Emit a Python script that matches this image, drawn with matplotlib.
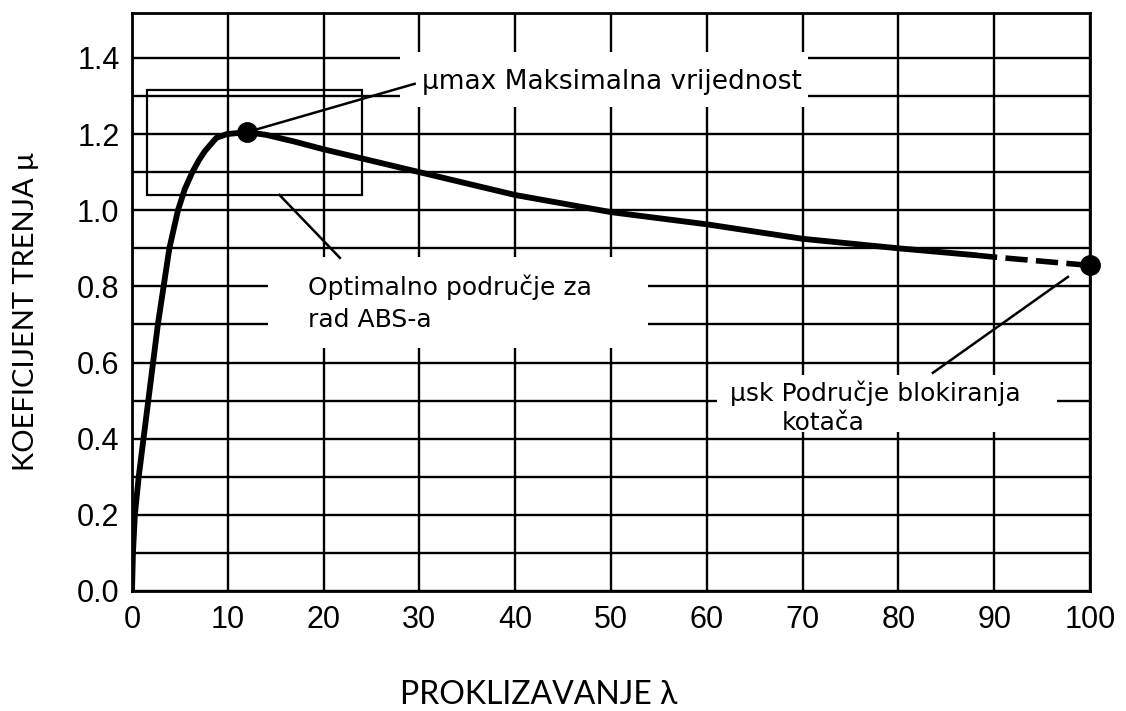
import matplotlib.pyplot as plt
import matplotlib.patches as mpatches

# DATA
slip = [0, 0.1, 0.3, 0.7, 1.2, 1.7, 2.2, 2.7, 3.3, 3.9, 4.8, 5.5, 6.3, 7.0, 7.6,
        8.8, 9.9, 12, 14, 17, 20, 25, 30, 35, 40, 50, 60, 70, 80, 88]
mu = [0, 0.1, 0.2, 0.3, 0.4, 0.5, 0.6, 0.7, 0.8, 0.9, 1.0, 1.055, 1.1, 1.132, 1.155,
      1.19, 1.2, 1.205, 1.198, 1.18, 1.16, 1.13, 1.10, 1.07, 1.04, 0.995, 0.963, 0.925, 0.90, 0.882]
slip_dash = [88, 90, 95, 100]
mu_dash = [0.882, 0.877, 0.866, 0.855]

mu_max = (12, 1.205)
mu_sk = (100, 0.855)
opt_region = (1.6, 1.04, 24, 1.317)  # x0, y0, x1, y1

x_ticks = list(range(0, 101, 10))
y_ticks = [0.0, 0.2, 0.4, 0.6, 0.8, 1.0, 1.2, 1.4]
y_minor = [0.1, 0.3, 0.5, 0.7, 0.9, 1.1, 1.3]

# FIGURE
fig = plt.figure(figsize=(11.26, 7.11), dpi=100)
ax = fig.add_axes([132 / 1126, 1 - 591 / 711, (1090 - 132) / 1126, (591 - 13) / 711])
ax.set_xlim(0, 100)
ax.set_ylim(0, 1.518)

ax.set_xticks(x_ticks)
ax.set_xticklabels([str(t) for t in x_ticks])
ax.set_yticks(y_ticks)
ax.set_yticklabels([f'{t:.1f}' for t in y_ticks])
ax.set_yticks(y_minor, minor=True)
ax.tick_params(which='both', length=0)
ax.tick_params(axis='y', pad=9, labelsize=22)
ax.tick_params(axis='x', pad=10, labelsize=22)
for lab in ax.get_xticklabels() + ax.get_yticklabels():
    lab.set_family('Liberation Sans')

ax.set_axisbelow(True)
ax.grid(True, which='both', color='black', linewidth=1.7)
for sp in ax.spines.values():
    sp.set_linewidth(2.0)

# curve
ax.plot(slip, mu, color='black', linewidth=4.2, solid_capstyle='round',
        solid_joinstyle='round', zorder=3)
ax.plot(slip_dash, mu_dash, color='black', linewidth=4.0, linestyle=(0, (4, 1.5)), zorder=3)
ax.plot(*mu_max, 'o', color='black', markersize=14, zorder=5)
ax.plot(*mu_sk, 'o', color='black', markersize=14, zorder=5, clip_on=False)

# optimal region box
ax.add_patch(mpatches.Rectangle((opt_region[0], opt_region[1]),
                                opt_region[2] - opt_region[0], opt_region[3] - opt_region[1],
                                fill=False, edgecolor='black', linewidth=1.6, zorder=2))

# white label boxes hiding the grid
for x0, y0, x1, y1 in [(28.0, 1.271, 70.6, 1.415), (14.2, 0.638, 53.9, 0.877), (61.1, 0.418, 96.6, 0.567)]:
    ax.add_patch(mpatches.Rectangle((x0, y0), x1 - x0, y1 - y0, facecolor='white',
                                    edgecolor='none', zorder=1.5))

# leader lines
ax.plot([mu_max[0], 29.5], [mu_max[1], 1.332], color='black', linewidth=1.8, zorder=4)
ax.plot([15.4, 21.7], [1.040, 0.875], color='black', linewidth=1.8, zorder=4)
ax.plot([83.6, 97.7], [0.573, 0.825], color='black', linewidth=1.8, zorder=4)

# annotations
ax.text(30.3, 1.337, 'μmax Maksimalna vrijednost', fontsize=19, family='DejaVu Sans',
        va='center', ha='left', zorder=6)
ax.text(18.4, 0.799, 'Optimalno područje za', fontsize=18, family='DejaVu Sans',
        va='center', ha='left', zorder=6)
ax.text(18.4, 0.712, 'rad ABS-a', fontsize=18, family='DejaVu Sans',
        va='center', ha='left', zorder=6)
ax.text(62.4, 0.52, 'μsk Područje blokiranja', fontsize=18, family='DejaVu Sans',
        va='center', ha='left', zorder=6)
ax.text(67.8, 0.441, 'kotača', fontsize=18, family='DejaVu Sans',
        va='center', ha='left', zorder=6)

# axis titles
fig.text(26 / 1126, 1 - 312 / 711, 'KOEFICIJENT TRENJA μ', rotation=90, fontsize=21,
         family='Lato', ha='center', va='center')
fig.text(539 / 1126, 1 - 695 / 711, 'PROKLIZAVANJE λ', fontsize=23,
         family='Lato', ha='center', va='center')

fig.savefig('out.png', dpi=100, facecolor='white')
